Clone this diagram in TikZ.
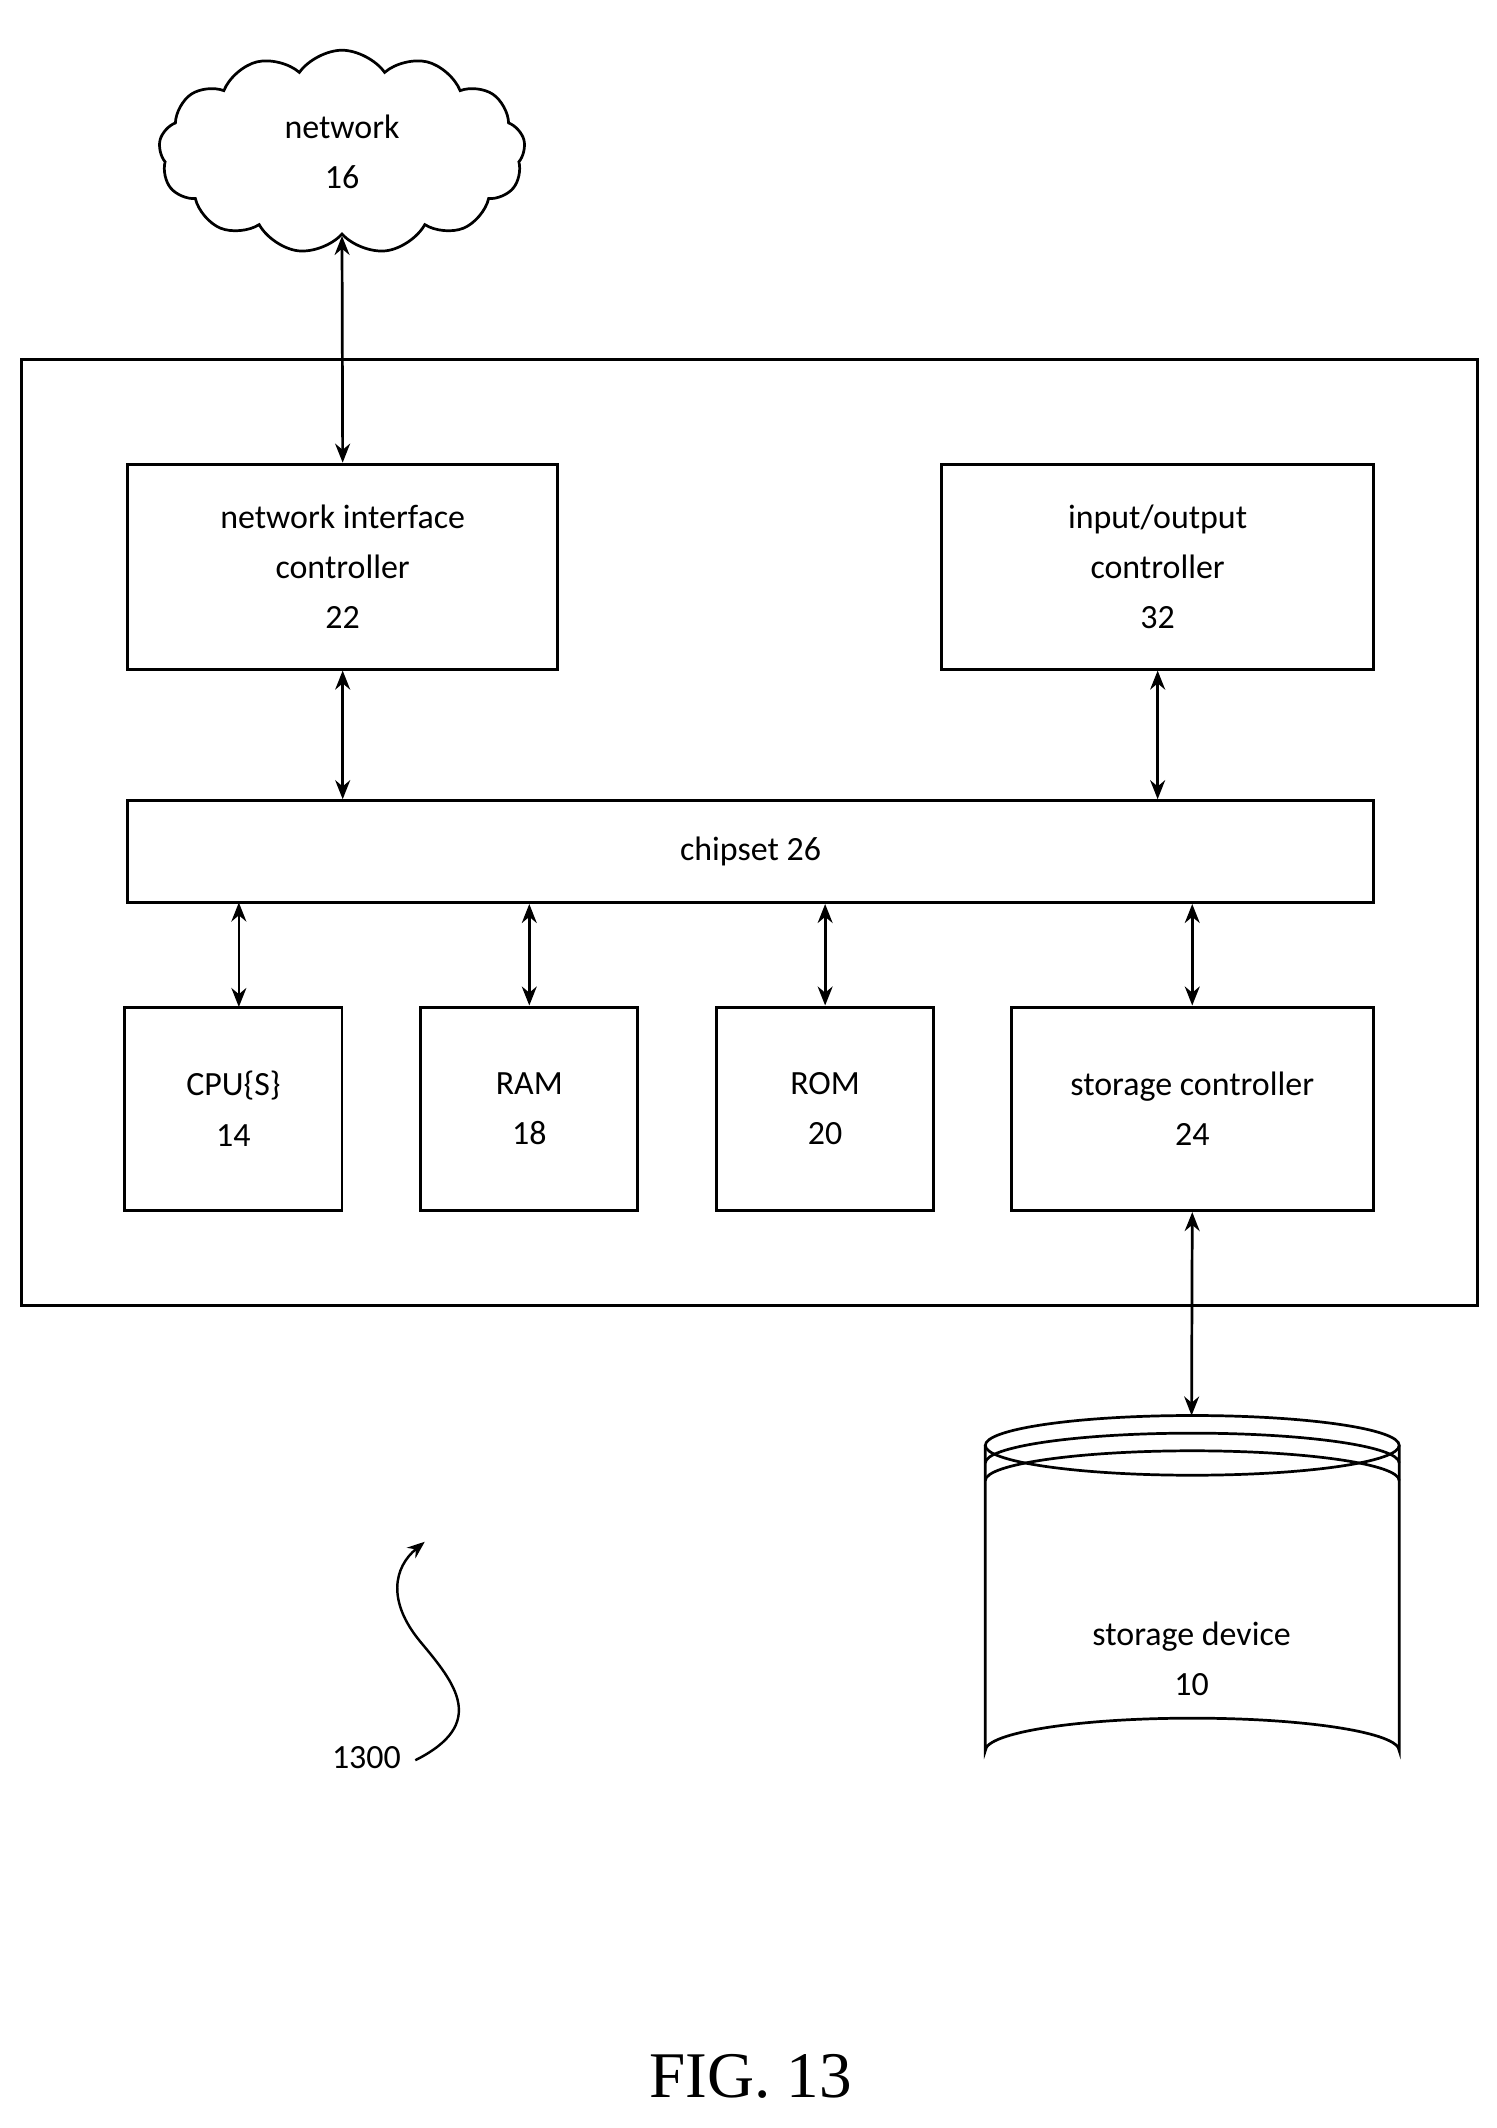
\documentclass[tikz,border=0pt]{standalone}
\usepackage{fontspec}
\setmainfont{Carlito}
\newfontfamily\figfont{Liberation Serif}
\usetikzlibrary{shapes.symbols,arrows.meta}
\begin{document}
\begin{tikzpicture}[x=1pt,y=-1pt,
  box/.style={draw,line width=2.2pt,align=center,font=\fontsize{25}{37}\selectfont},
  lbl/.style={align=center,font=\fontsize{25}{37}\selectfont},
  dbl/.style={line width=2pt,{Stealth[length=14pt,width=11pt]}-{Stealth[length=14pt,width=11pt]}}]
\useasboundingbox (0,0) rectangle (1103,1568);
\node[cloud,draw,line width=2pt,cloud puffs=13,cloud puff arc=110,aspect=1.8,minimum width=270,minimum height=150,lbl] (net) at (252,112) {network\\16};
\draw[line width=2.2pt] (16,265) rectangle (1089,962);
\node[box,minimum width=317,minimum height=151] (nic) at (252.5,417.5) {network interface\\controller\\22};
\node[box,minimum width=318,minimum height=151] (io) at (853,417.5) {input/output\\controller\\32};
\node[box,minimum width=918,minimum height=75] (chip) at (553,627.5) {chipset 26};
\node[box,minimum width=160,minimum height=150] (cpu) at (172,817) {CPU\{S\}\\14};
\node[box,minimum width=160,minimum height=150] (ram) at (390,817) {RAM\\18};
\node[box,minimum width=160,minimum height=150] (rom) at (608,817) {ROM\\20};
\node[box,minimum width=267,minimum height=150] (sc) at (878.5,817) {storage controller\\24};
\coordinate (cy) at (878,1043);
\draw[line width=2pt] (726,1065) -- (726,1290) arc[start angle=180,end angle=360,x radius=152.5,y radius=24] -- (1031,1065);
\draw[line width=2pt] (878.5,1065) ellipse[x radius=152.5,y radius=22];
\draw[line width=2pt] (726,1078) arc[start angle=180,end angle=360,x radius=152.5,y radius=22];
\draw[line width=2pt] (726,1091) arc[start angle=180,end angle=360,x radius=152.5,y radius=22];
\node[lbl] (sd) at (878,1222) {storage device\\10};
\draw[dbl] (net.south) -- (nic.north);
\draw[dbl] (nic.south) -- (nic.south|-chip.north);
\draw[dbl] (io.south) -- (io.south|-chip.north);
\draw[dbl] (cpu.north-|176,0) ++(0,0) coordinate (c1) (176,665) -- (176,742);
\draw[dbl] (ram.north) -- (ram.north|-chip.south);
\draw[dbl] (rom.north) -- (rom.north|-chip.south);
\draw[dbl] (sc.north) -- (sc.north|-chip.south);
\draw[dbl] (sc.south) -- (cy);
\node[lbl] (ref) at (270,1295) {1300};
\coordinate (tip) at (313,1136);
\draw[line width=1.8pt,-{Stealth[length=13pt,width=10pt]}] (306,1297) .. controls (360,1270) and (335,1240) .. (310,1210) .. controls (285,1180) and (290,1155) .. (tip);
\node[font=\figfont\fontsize{48}{50}\selectfont] (fig) at (553,1530) {FIG. 13};
\end{tikzpicture}
\end{document}
